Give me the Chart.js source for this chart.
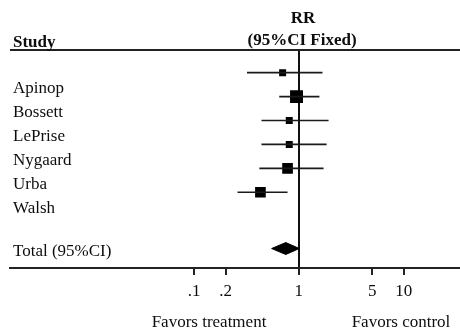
<!DOCTYPE html>
<html>
<head>
<meta charset="utf-8">
<script src="https://cdn.jsdelivr.net/npm/chart.js@4"></script>
<style>
  html, body { margin: 0; padding: 0; background: #fff; }
  canvas { display: block; }
</style>
</head>
<body>
<canvas id="c" width="460" height="331"></canvas>
<script>
// ---- data ----
const studies = ['Apinop', 'Bossett', 'LePrise', 'Nygaard', 'Urba', 'Walsh'];
const rr      = [0.70, 0.95, 0.81, 0.81, 0.78, 0.43];
const ciLow   = [0.32, 0.65, 0.44, 0.44, 0.42, 0.26];
const ciHigh  = [1.68, 1.57, 1.92, 1.84, 1.72, 0.78];
const weights = [9, 31, 9, 9, 21, 21];
const totalLabel = 'Total (95%CI)';
const totalRR   = 0.75;
const totalLow  = 0.55;
const totalHigh = 1.01;
const tickValues = [0.1, 0.2, 1, 5, 10];
const tickLabels = ['.1', '.2', '1', '5', '10'];

// ---- layout constants ----
const SERIF = '"Liberation Serif", "Times New Roman", serif';
const INK = '#0d0d0d';
const onePx = 299.3, leftPx = 10, rightPx = 460, areaRightPx = 451.5, decadePx = 105;
const xMin = Math.pow(10, -(onePx - leftPx) / decadePx);
const xMax = Math.pow(10, (areaRightPx - onePx) / decadePx);
const totalRow = 8.355;
const diamondHalf = 0.25;
const labelOffset = 0.85;
const totalLabelOffset = 0.31;

const datasets = [];
studies.forEach((s, i) => {
  datasets.push({
    label: s + ' CI',
    data: [{ x: ciLow[i], y: i + 1 }, { x: ciHigh[i], y: i + 1 }],
    showLine: true, borderColor: '#1a1a1a', borderWidth: 1.7,
    pointRadius: 0, fill: false
  });
});
datasets.push({
  label: 'RR',
  data: rr.map((v, i) => ({ x: v, y: i + 1 })),
  pointStyle: 'rect',
  pointRadius: weights.map(w => 2.33 * Math.sqrt(w) / Math.SQRT2),
  backgroundColor: '#000', borderColor: '#000', borderWidth: 0
});
datasets.push({
  label: 'Total',
  data: [
    { x: totalLow, y: totalRow },
    { x: totalRR, y: totalRow - diamondHalf },
    { x: totalHigh, y: totalRow },
    { x: totalRR, y: totalRow + diamondHalf },
    { x: totalLow, y: totalRow }
  ],
  showLine: true, fill: 'shape', backgroundColor: '#000',
  borderColor: '#000', borderWidth: 1, pointRadius: 0, tension: 0
});

const textPlugin = {
  id: 'forestText',
  afterDraw(chart) {
    const ctx = chart.ctx;
    const y = chart.scales.y;
    const area = chart.chartArea;
    ctx.save();
    // top rule and full-width bottom rule
    ctx.strokeStyle = '#222';
    ctx.lineWidth = 2;
    ctx.beginPath();
    ctx.moveTo(leftPx, area.top);
    ctx.lineTo(rightPx, area.top);
    ctx.moveTo(area.right - 1, area.bottom);
    ctx.lineTo(rightPx, area.bottom);
    ctx.stroke();

    ctx.fillStyle = INK;
    ctx.textBaseline = 'alphabetic';
    // headers
    ctx.font = 'bold 17px ' + SERIF;
    ctx.textAlign = 'left';
    ctx.fillText('Study', 13, 47);
    ctx.textAlign = 'center';
    ctx.fillText('RR', 303, 22.5);
    ctx.fillText('(95%CI Fixed)', 302, 45);

    // study labels
    ctx.font = '17px ' + SERIF;
    ctx.textAlign = 'left';
    studies.forEach((s, i) => {
      ctx.fillText(s, 13, y.getPixelForValue(i + 1 + labelOffset));
    });
    ctx.fillText(totalLabel, 13, y.getPixelForValue(totalRow + totalLabelOffset));

    // favors
    ctx.textAlign = 'center';
    ctx.fillText('Favors treatment', 209, 326.5);
    ctx.fillText('Favors control', 401, 326.5);
    ctx.restore();
  }
};

new Chart(document.getElementById('c'), {
  type: 'scatter',
  data: { datasets },
  options: {
    responsive: false,
    animation: false,
    layout: { padding: { left: leftPx, right: 0, top: 50, bottom: 0 } },
    plugins: { legend: { display: false }, tooltip: { enabled: false } },
    scales: {
      x: {
        type: 'logarithmic',
        position: 'bottom',
        min: xMin, max: xMax,
        afterBuildTicks: s => { s.ticks = tickValues.map(v => ({ value: v })); },
        afterFit: s => { s.height = 63; },
        ticks: {
          autoSkip: false, maxRotation: 0, minRotation: 0,
          color: INK, padding: 6,
          font: { family: SERIF, size: 17 },
          callback: (v, i) => tickLabels[i]
        },
        grid: {
          drawOnChartArea: true,
          color: c => (c.tick && c.tick.value === 1) ? '#111' : 'rgba(0,0,0,0)',
          lineWidth: 2,
          tickLength: 7,
          tickColor: '#222',
          tickWidth: 2
        },
        border: { display: true, color: '#222', width: 2 }
      },
      y: {
        type: 'linear', display: false, reverse: true,
        min: 0.05, max: 9.17
      }
    }
  },
  plugins: [textPlugin]
});
</script>
</body>
</html>
